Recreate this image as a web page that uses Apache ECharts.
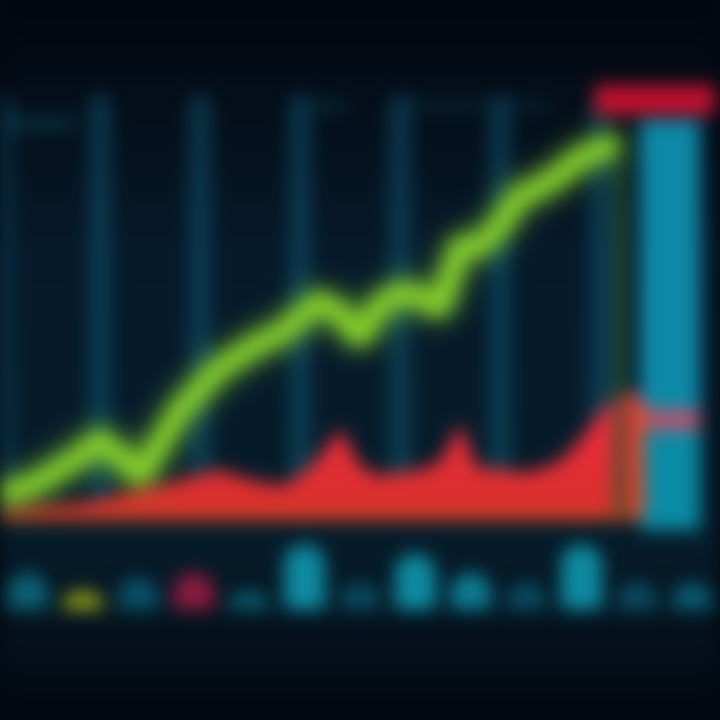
<!DOCTYPE html>
<html><head><meta charset="utf-8">
<script src="https://cdn.jsdelivr.net/npm/echarts@6/dist/echarts.min.js"></script>
<style>
html,body{margin:0;padding:0;background:#030812;}
#c{width:720px;height:720px;filter:blur(9px);}
</style></head>
<body><div id="c"></div>
<script>
const days = Array.from({length:33},(_,i)=>'D'+(i+1));
const priceLine = [5,6,8,11,14,18,14,9,17,25,30,35,38,41,43,47,51,48,42,50,53,52,49,64,64,69,76,78,81,85,87,88];
const volumeArea = [1,1.5,2,2.3,2.8,3.6,4.8,6,7,8.3,9.5,10.8,9,8,7,9.5,14,20,12,9.5,10.2,10.8,13,21,11,11,10,11,13,18,24,29,29];
const bottomCats = ['a','b','c','d','e','f','g','h','i','j','k','l','m'];
const bottomVals = [4,2,3.5,4,2,7,3,6,4,3,7,3,3];
const bottomColors = ['#0b5f73','#8a9a1c','#0a5068','#8a1a40','#0a5a6e','#0e8aa0','#0a4a60','#0e8aa0','#0e7a90','#0a4a60','#0e8aa0','#0a4a60','#0a5a70'];
const sidePanel = [100,20,290];
const sideColors = ['#0b8aa4','#c0506a','#0e88a6'];
const chart = echarts.init(document.getElementById('c'));
chart.setOption({
  backgroundColor:{type:'linear',x:0,y:0,x2:0,y2:1,colorStops:[{offset:0,color:'#02060e'},{offset:0.35,color:'#06192a'},{offset:0.75,color:'#061c2a'},{offset:1,color:'#020710'}]},
  animation:false,
  title:[
    {text:'Market',left:0,top:108,textStyle:{color:'#0e4a5e',fontSize:22,fontFamily:'Roboto'}},
    {text:'Index',left:290,top:90,textStyle:{color:'#0b3444',fontSize:22,fontFamily:'Roboto'}},
    {text:'Volume Trend',left:405,top:90,textStyle:{color:'#0b2e3e',fontSize:22,fontFamily:'Roboto'}}
  ],
  grid:[
    {left:0,top:95,width:640,height:420},
    {left:0,top:535,width:720,height:75},
    {left:640,top:120,width:60,height:410},
    {left:595,top:85,width:120,height:30}
  ],
  xAxis:[
    {gridIndex:0,type:'category',data:days,boundaryGap:false,axisLabel:{show:false},axisTick:{show:false},
     axisLine:{lineStyle:{color:'#d2561e',width:10}},
     splitLine:{show:true,interval:4,lineStyle:{color:'rgba(20,110,140,0.4)',width:22}}},
    {gridIndex:1,type:'category',data:bottomCats,show:false},
    {gridIndex:2,type:'category',data:['p'],show:false},
    {gridIndex:3,type:'category',data:['t'],show:false}
  ],
  yAxis:[
    {gridIndex:0,type:'value',min:0,max:100,show:false,splitLine:{show:false}},
    {gridIndex:1,type:'value',min:0,max:8,show:false},
    {gridIndex:2,type:'value',min:0,max:410,show:false},
    {gridIndex:3,type:'value',min:0,max:1,show:false}
  ],
  series:[
    {type:'line',xAxisIndex:0,yAxisIndex:0,data:volumeArea,symbol:'none',smooth:0.2,
     lineStyle:{width:0},areaStyle:{opacity:1,color:{type:'linear',x:0,y:0,x2:0,y2:1,colorStops:[{offset:0,color:'#f02a40'},{offset:1,color:'#d8302c'}]}},
     markLine:{symbol:'none',silent:true,label:{show:false},lineStyle:{color:'#d2561e',width:8,type:'solid'},
       data:[[{coord:['D33',0]},{coord:['D33',27]}]]}},
    {type:'line',xAxisIndex:0,yAxisIndex:0,data:priceLine,symbol:'none',
     lineStyle:{color:'#84cc2c',width:20,shadowColor:'#8fe030',shadowBlur:24},
     markLine:{symbol:'none',silent:true,label:{show:false},lineStyle:{color:'#2b5a2e',width:10,type:'solid'},
       data:[[{coord:['D32',88]},{coord:['D32',0]}]]}},
    {type:'bar',xAxisIndex:1,yAxisIndex:1,data:bottomVals.map((v,i)=>({value:v,itemStyle:{color:bottomColors[i]}})),barWidth:'75%',itemStyle:{borderRadius:[30,30,4,4]}},
    {type:'bar',xAxisIndex:2,yAxisIndex:2,stack:'s',data:[{value:sidePanel[0],itemStyle:{color:sideColors[0]}}],barWidth:'100%'},
    {type:'bar',xAxisIndex:2,yAxisIndex:2,stack:'s',data:[{value:sidePanel[1],itemStyle:{color:sideColors[1]}}],barWidth:'100%'},
    {type:'bar',xAxisIndex:2,yAxisIndex:2,stack:'s',data:[{value:sidePanel[2],itemStyle:{color:sideColors[2]}}],barWidth:'100%'},
    {type:'bar',xAxisIndex:3,yAxisIndex:3,data:[{value:1,itemStyle:{color:'#c0102e'}}],barWidth:'100%'}
  ]
});
</script></body></html>
